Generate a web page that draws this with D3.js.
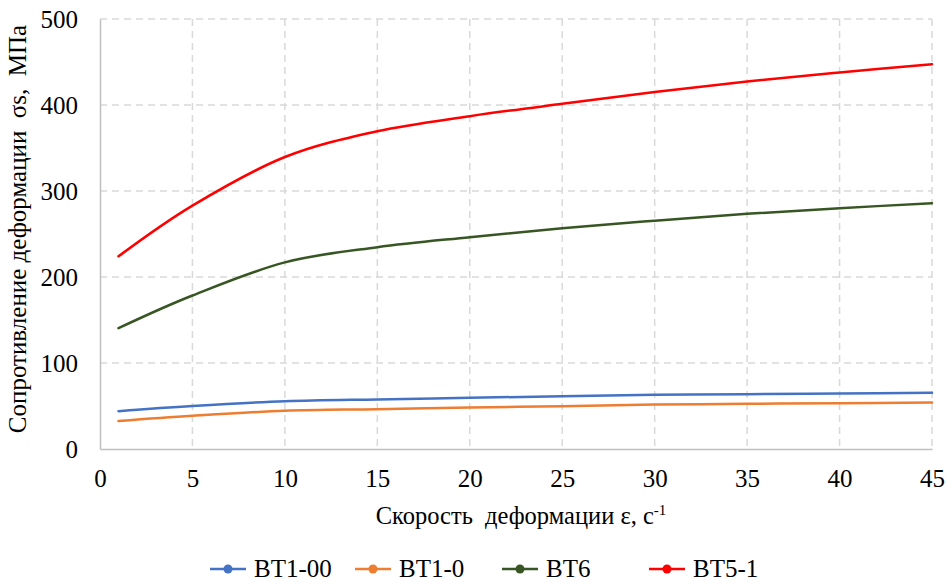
<!DOCTYPE html>
<html>
<head>
<meta charset="utf-8">
<script src="https://cdn.jsdelivr.net/npm/d3@7/dist/d3.min.js"></script>
<style>
  html, body { margin: 0; padding: 0; background: #fff; }
  svg { display: block; }
</style>
</head>
<body>
<svg id="chart" width="948" height="582"></svg>
<script>
// Strain rate, 1/s
const strainRates = [1, 5, 10, 15, 20, 25, 30, 35, 40, 45];

// Flow stress, MPa, per alloy
const bt1_00 = [44, 50, 55.5, 57.7, 59.5, 61.4, 63, 63.7, 64.5, 65.3];
const bt1_0  = [32.5, 38.6, 44.4, 46.3, 48.3, 49.8, 51.7, 52.5, 53.3, 54];
const bt6    = [140.5, 178.5, 217, 234.7, 246.3, 256.8, 265.5, 273.5, 280, 285.8];
const bt5_1  = [224, 283, 339.5, 369.5, 387, 401.4, 415, 427.3, 437.8, 447.5];

const seriesNames  = ["BT1-00", "BT1-0", "BT6", "BT5-1"];
const seriesColors = ["#4472C4", "#ED7D31", "#375623", "#FF0000"];

const xTicks = [0, 5, 10, 15, 20, 25, 30, 35, 40, 45];
const yTicks = [0, 100, 200, 300, 400, 500];

const FONT = "'Liberation Serif', 'Times New Roman', 'DejaVu Serif', serif";

const series = [bt1_00, bt1_0, bt6, bt5_1].map((vals, i) => ({
  name: seriesNames[i],
  color: seriesColors[i],
  points: vals.map((v, j) => ({ x: strainRates[j], y: v }))
}));

const svg = d3.select("#chart");
const plot = { left: 100, right: 932, top: 19, bottom: 449 };

const x = d3.scaleLinear().domain([0, 45]).range([plot.left, plot.right]);
const y = d3.scaleLinear().domain([0, 500]).range([plot.bottom, plot.top]);

// Dashed grid
const grid = svg.append("g");
grid.selectAll("line.h").data(yTicks.filter(d => d > 0)).join("line")
  .attr("x1", plot.left).attr("x2", plot.right)
  .attr("y1", d => y(d)).attr("y2", d => y(d))
  .attr("stroke", "#d9d9d9").attr("stroke-width", 1.5)
  .attr("stroke-dasharray", "7,5");
grid.selectAll("line.v").data(xTicks.filter(d => d > 0)).join("line")
  .attr("x1", d => x(d)).attr("x2", d => x(d))
  .attr("y1", plot.top).attr("y2", plot.bottom)
  .attr("stroke", "#d9d9d9").attr("stroke-width", 1.5)
  .attr("stroke-dasharray", "7,5");

// Axes
const xAxis = d3.axisBottom(x).tickValues(xTicks).tickSize(0).tickPadding(20);
const yAxis = d3.axisLeft(y).tickValues(yTicks).tickSize(0).tickPadding(22);

const gx = svg.append("g").attr("transform", `translate(0,${plot.bottom})`).call(xAxis);
const gy = svg.append("g").attr("transform", `translate(${plot.left},0)`).call(yAxis);
[gx, gy].forEach(g => {
  g.attr("font-family", FONT).attr("font-size", 25);
  g.select(".domain").attr("stroke", "#bfbfbf").attr("stroke-width", 1.5);
  g.selectAll("text").style("font-family", FONT).style("font-size", "25px").attr("fill", "#000");
});
gx.selectAll("text").attr("dy", "0.72em");

// Curves
const line = d3.line()
  .x(d => x(d.x)).y(d => y(d.y))
  .curve(d3.curveCardinal.tension(0));

svg.append("g").selectAll("path").data(series).join("path")
  .attr("d", d => line(d.points))
  .attr("fill", "none")
  .attr("stroke", d => d.color)
  .attr("stroke-width", 2.5)
  .attr("stroke-linecap", "round");

// Axis titles
svg.append("text")
  .attr("transform", "translate(26,229) rotate(-90)")
  .attr("text-anchor", "middle")
  .style("font-family", FONT).style("font-size", "25px")
  .style("white-space", "pre")
  .text("Сопротивление деформации  σs,  МПа");

const xt = svg.append("text")
  .attr("x", 521).attr("y", 524)
  .attr("text-anchor", "middle")
  .style("font-family", FONT).style("font-size", "24.5px")
  .style("white-space", "pre");
xt.append("tspan").text("Скорость  деформации ε, с");
xt.append("tspan").style("font-size", "15px").attr("dy", -9).text("-1");

// Legend
const legendX = [210, 355, 502, 649];
const legend = svg.append("g").selectAll("g").data(series).join("g")
  .attr("transform", (d, i) => `translate(${legendX[i]},569)`);
legend.append("line")
  .attr("x1", 0).attr("x2", 36).attr("y1", 0).attr("y2", 0)
  .attr("stroke", d => d.color).attr("stroke-width", 2.5);
legend.append("circle")
  .attr("cx", 18).attr("cy", 0).attr("r", 4.5)
  .attr("fill", d => d.color);
legend.append("text")
  .attr("x", 44).attr("y", 8)
  .style("font-family", FONT).style("font-size", "25px")
  .text(d => d.name);
</script>
</body>
</html>
